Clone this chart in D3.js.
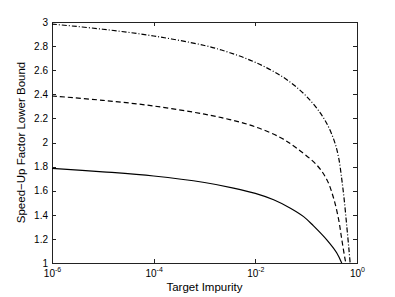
<!DOCTYPE html>
<html>
<head>
<meta charset="utf-8">
<script src="https://cdn.jsdelivr.net/npm/d3@7"></script>
<style>
  body { margin: 0; background: #fff; }
  svg { display: block; font-family: "Liberation Sans", Arial, sans-serif; }
  .axis path, .axis line { stroke: #222; shape-rendering: crispEdges; }
  .axis text { fill: #000; font-size: 10px; }
</style>
</head>
<body>
<svg width="395" height="297"></svg>
<script>
// x values (target impurity) and y values (speed-up lower bound) per curve
const solidX = [1e-6, 1e-5, 1e-4, 1e-3, 0.00372, 0.01, 0.0229, 0.049, 0.0891, 0.138, 0.257, 0.398, 0.5];
const solidY = [1.786, 1.757, 1.722, 1.668, 1.622, 1.578, 1.525, 1.455, 1.385, 1.31, 1.19, 1.085, 1.0];

const dashX = [1e-6, 1e-5, 1e-4, 1e-3, 0.00316, 0.01, 0.0316, 0.066, 0.162, 0.257, 0.347, 0.437, 0.5, 0.575, 0.603];
const dashY = [2.386, 2.35, 2.303, 2.235, 2.19, 2.13, 2.04, 1.95, 1.813, 1.689, 1.537, 1.357, 1.20, 1.045, 1.0];

const dotdashX = [1e-6, 1e-5, 1e-4, 1e-3, 0.00316, 0.01, 0.0316, 0.0708, 0.129, 0.204, 0.282, 0.372, 0.437, 0.5, 0.562, 0.631, 0.692, 0.733];
const dotdashY = [2.983, 2.94, 2.884, 2.805, 2.745, 2.665, 2.555, 2.445, 2.335, 2.225, 2.12, 1.99, 1.87, 1.70, 1.52, 1.30, 1.12, 1.0];

const xTicks = [1e-6, 1e-4, 1e-2, 1e0];
const xTickExp = ['-6', '-4', '-2', '0'];
const yTicks = [1, 1.2, 1.4, 1.6, 1.8, 2, 2.2, 2.4, 2.6, 2.8, 3];

const xLabel = 'Target Impurity';
const yLabel = 'Speed\u2212Up Factor Lower Bound';

const margin = { left: 52, right: 38, top: 22, bottom: 34 };
const width = 395, height = 297;

const svg = d3.select('svg');

var x = d3.scaleLog()
    .domain([1e-6, 1])
    .range([margin.left, width - margin.right]);

var y = d3.scaleLinear()
    .domain([1, 3])
    .range([height - margin.bottom, margin.top]);

const tick = 4; // px, ticks point inward

svg.append('defs').append('clipPath')
    .attr('id', 'plot')
    .append('rect')
    .attr('x', x.range()[0])
    .attr('y', y.range()[1])
    .attr('width', x.range()[1] - x.range()[0])
    .attr('height', y.range()[0] - y.range()[1]);

// mirrored axes (no labels) on top and right
svg.append('g')
    .attr('class', 'axis')
    .attr('transform', `translate(0,${margin.top})`)
    .call(d3.axisTop(x).tickValues(xTicks).tickSizeInner(-tick).tickSizeOuter(0).tickFormat(''));

svg.append('g')
    .attr('class', 'axis')
    .attr('transform', `translate(${width - margin.right},0)`)
    .call(d3.axisRight(y).tickValues(yTicks).tickSizeInner(-tick).tickSizeOuter(0).tickFormat(''));

var gX = svg.append('g')
    .attr('class', 'axis')
    .attr('transform', `translate(0,${height - margin.bottom})`)
    .call(d3.axisBottom(x).tickValues(xTicks).tickSizeInner(-tick).tickSizeOuter(0).tickFormat(''));

// 10^n labels with superscript
gX.selectAll('.tick').each(function(d, i) {
    const t = d3.select(this).append('text')
        .attr('y', 14)
        .attr('text-anchor', 'middle');
    t.append('tspan').text('10');
    t.append('tspan')
        .attr('dy', -5)
        .attr('font-size', '7px')
        .text(xTickExp[i]);
});

svg.append('g')
    .attr('class', 'axis')
    .attr('transform', `translate(${margin.left},0)`)
    .call(d3.axisLeft(y).tickValues(yTicks).tickSizeInner(-tick).tickSizeOuter(0).tickPadding(4).tickFormat(d3.format('')));

// lines
const line = d3.line()
    .x(d => x(d[0]))
    .y(d => y(d[1]))
    .curve(d3.curveCatmullRom.alpha(0.5));

const series = [
    { xs: solidX, ys: solidY, dash: null },
    { xs: dashX, ys: dashY, dash: '5,3' },
    { xs: dotdashX, ys: dotdashY, dash: '5,2,1,2' }
];

svg.append('g')
    .attr('clip-path', 'url(#plot)')
    .selectAll('path')
    .data(series)
    .join('path')
    .attr('d', s => line(s.xs.map((v, i) => [v, s.ys[i]])))
    .attr('fill', 'none')
    .attr('stroke', '#000')
    .attr('stroke-width', 1.2)
    .attr('stroke-dasharray', s => s.dash);

// labels
svg.append('text')
    .attr('x', (x.range()[0] + x.range()[1]) / 2)
    .attr('y', 291)
    .attr('text-anchor', 'middle')
    .attr('font-size', '11.5px')
    .text(xLabel);

svg.append('text')
    .attr('transform', `translate(25,${(y.range()[0] + y.range()[1]) / 2}) rotate(-90)`)
    .attr('text-anchor', 'middle')
    .attr('font-size', '11.5px')
    .text(yLabel);
</script>
</body>
</html>
